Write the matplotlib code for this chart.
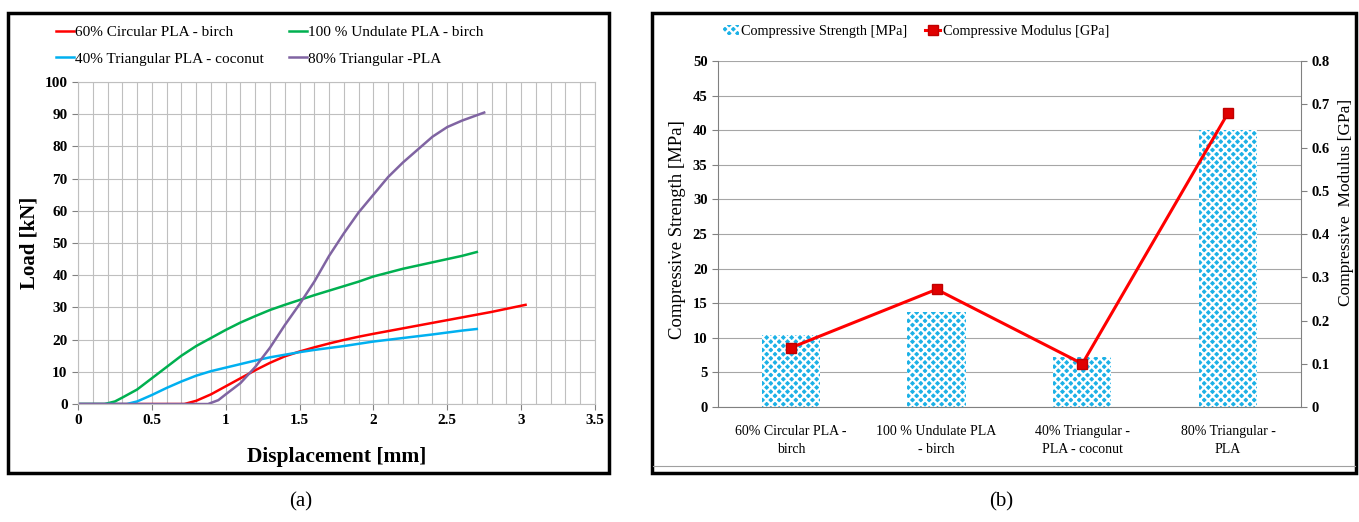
import matplotlib.pyplot as plt
from matplotlib.patches import Rectangle
from matplotlib.lines import Line2D

plt.rcParams['font.family'] = ['Liberation Serif', 'DejaVu Serif']
plt.rcParams['hatch.linewidth'] = 1.6

# (a) load-displacement curves
red_x = [0, 0.72, 0.8, 0.9, 1.0, 1.1, 1.2, 1.3, 1.4, 1.5, 1.6, 1.7, 1.8, 1.9, 2.0, 2.2, 2.4, 2.6, 2.8, 3.03]
red_y = [0, 0, 1, 3, 5.5, 8, 10.5, 12.8, 14.8, 16.3, 17.6, 18.8, 19.9, 20.9, 21.8, 23.5, 25.2, 26.9, 28.6, 30.8]
green_x = [0, 0.18, 0.25, 0.3, 0.4, 0.5, 0.6, 0.7, 0.8, 0.9, 1.0, 1.1, 1.2, 1.3, 1.4, 1.5, 1.6, 1.7, 1.8, 1.9, 2.0, 2.2, 2.4, 2.6, 2.7]
green_y = [0, 0, 0.8, 2, 4.5, 8, 11.5, 15, 18, 20.5, 23, 25.3, 27.3, 29.2, 30.8, 32.3, 33.8, 35.2, 36.6, 38, 39.6, 42, 44, 46, 47.2]
cyan_x = [0, 0.33, 0.4, 0.5, 0.6, 0.7, 0.8, 0.9, 1.0, 1.1, 1.2, 1.3, 1.4, 1.5, 1.6, 1.7, 1.8, 1.9, 2.0, 2.2, 2.4, 2.6, 2.7]
cyan_y = [0, 0, 0.8, 2.8, 5, 7, 8.8, 10.2, 11.3, 12.4, 13.5, 14.5, 15.3, 16.1, 16.8, 17.4, 18, 18.7, 19.4, 20.5, 21.6, 22.8, 23.3]
purple_x = [0, 0.88, 0.95, 1.0, 1.1, 1.2, 1.3, 1.4, 1.5, 1.6, 1.7, 1.8, 1.9, 2.0, 2.1, 2.2, 2.3, 2.4, 2.5, 2.6, 2.75]
purple_y = [0, 0, 1.2, 3, 6.5, 11.5, 17.5, 24.5, 31, 38, 46, 53, 59.5, 65, 70.5, 75, 79, 83, 86, 88, 90.5]

x_ticks = [0, 0.5, 1, 1.5, 2, 2.5, 3, 3.5]
x_tick_labels = ['0', '0.5', '1', '1.5', '2', '2.5', '3', '3.5']
x_minor = [i / 10 for i in range(36)]
y_ticks = list(range(0, 101, 10))

# (b) compressive properties
categories = ['60% Circular PLA -\nbirch', '100 % Undulate PLA\n- birch',
              '40% Triangular -\nPLA - coconut', '80% Triangular -\nPLA']
strength = [10.4, 13.8, 7.2, 40.0]
modulus = [0.137, 0.272, 0.1, 0.68]
strength_ticks = list(range(0, 51, 5))
modulus_ticks = [0, 0.1, 0.2, 0.3, 0.4, 0.5, 0.6, 0.7, 0.8]
modulus_labels = ['0', '0.1', '0.2', '0.3', '0.4', '0.5', '0.6', '0.7', '0.8']

fig = plt.figure(figsize=(13.59, 5.22), dpi=100)

# panel frames
for x0, w in [(0.0059, 0.4422), (0.4798, 0.518)]:
    fig.patches.append(Rectangle((x0, 0.094), w, 0.881, transform=fig.transFigure,
                                 fill=False, edgecolor='black', linewidth=2.5))
fig.lines.append(Line2D([0.4805, 0.997], [0.107, 0.107], transform=fig.transFigure,
                        color='#A0A0A0', lw=0.8))

# ---- (a)
ax = fig.add_axes([0.0574, 0.226, 0.3804, 0.617])
l_red, = ax.plot(red_x, red_y, color='#FF0000', lw=1.8, label='60% Circular PLA - birch')
l_green, = ax.plot(green_x, green_y, color='#00B050', lw=1.8, label='100 % Undulate PLA - birch')
l_cyan, = ax.plot(cyan_x, cyan_y, color='#00B0F0', lw=1.8, label='40% Triangular PLA - coconut')
l_purple, = ax.plot(purple_x, purple_y, color='#8064A2', lw=1.8, label='80% Triangular -PLA')
ax.set_xlim(0, 3.5)
ax.set_ylim(0, 100)
ax.set_xticks(x_ticks)
ax.set_xticklabels(x_tick_labels, fontweight='bold')
ax.set_xticks(x_minor, minor=True)
ax.set_yticks(y_ticks)
ax.set_yticklabels([str(v) for v in y_ticks], fontweight='bold')
ax.grid(True, which='both', axis='x', color='#BFBFBF', lw=0.8)
ax.grid(True, which='major', axis='y', color='#BFBFBF', lw=0.8)
ax.tick_params(which='minor', length=0)
ax.tick_params(which='major', length=4, color='#808080', labelsize=11)
for s in ax.spines.values():
    s.set_color('#BFBFBF')
ax.set_xlabel('Displacement [mm]', fontsize=15.5, fontweight='bold', labelpad=14)
ax.set_ylabel('Load [kN]', fontsize=15, fontweight='bold', labelpad=4)
order = [l_red, l_cyan, l_green, l_purple]
ax.legend(order, [l.get_label() for l in order],
          loc='lower left', bbox_to_anchor=(-0.07, 1.008), ncol=2, frameon=False,
          fontsize=11, handlelength=1.2, handletextpad=0.1, columnspacing=1.6,
          labelspacing=0.85)

# ---- (b)
bx = fig.add_axes([0.5283, 0.2203, 0.429, 0.6628])
pos = list(range(len(categories)))
bx.bar(pos, strength, width=0.4, color='#1CB1E6', edgecolor='white', lw=0,
       hatch='xxxx', label='Compressive Strength [MPa]')
bx.set_ylim(0, 50)
bx.set_xlim(-0.5, 3.5)
bx.set_yticks(strength_ticks)
bx.set_yticklabels([str(v) for v in strength_ticks], fontweight='bold')
bx.grid(True, axis='y', color='#A6A6A6', lw=0.8)
bx.set_axisbelow(True)
bx.set_xticks(pos)
bx.set_xticklabels(categories, fontsize=10, linespacing=1.45)
bx.tick_params(axis='x', length=0, pad=13)
bx.tick_params(axis='y', length=4, color='#808080', labelsize=10.5)
bx.spines['top'].set_visible(False)
bx.spines['right'].set_visible(False)
bx.spines['left'].set_color('#808080')
bx.spines['bottom'].set_color('#808080')
bx.set_ylabel('Compressive Strength [MPa]', fontsize=13.5)
bx.yaxis.set_label_coords(-0.055, 0.514)

bx2 = bx.twinx()
bx2.plot(pos, modulus, color='#FF0000', lw=2.2, marker='s', ms=7,
         markerfacecolor='#E00000', markeredgecolor='#C00000', label='Compressive Modulus [GPa]')
bx2.set_ylim(0, 0.8)
bx2.set_yticks(modulus_ticks)
bx2.set_yticklabels(modulus_labels, fontweight='bold')
bx2.tick_params(axis='y', length=4, color='#808080', labelsize=10.5)
bx2.spines['top'].set_visible(False)
bx2.spines['left'].set_visible(False)
bx2.spines['bottom'].set_visible(False)
bx2.spines['right'].set_color('#808080')
bx2.set_ylabel('Compressive  Modulus [GPa]', fontsize=12.5)
bx2.yaxis.set_label_coords(1.063, 0.59)

h1, l1 = bx.get_legend_handles_labels()
h2, l2 = bx2.get_legend_handles_labels()
bx.legend(h1 + h2, l1 + l2, loc='lower center', bbox_to_anchor=(0.34, 1.03), ncol=2,
          frameon=False, fontsize=10.3, handlelength=1.1, handletextpad=0.2, columnspacing=1.2)

fig.text(0.221, 0.03, '(a)', ha='center', fontsize=15)
fig.text(0.737, 0.03, '(b)', ha='center', fontsize=15)

plt.savefig('out.png', dpi=100)
